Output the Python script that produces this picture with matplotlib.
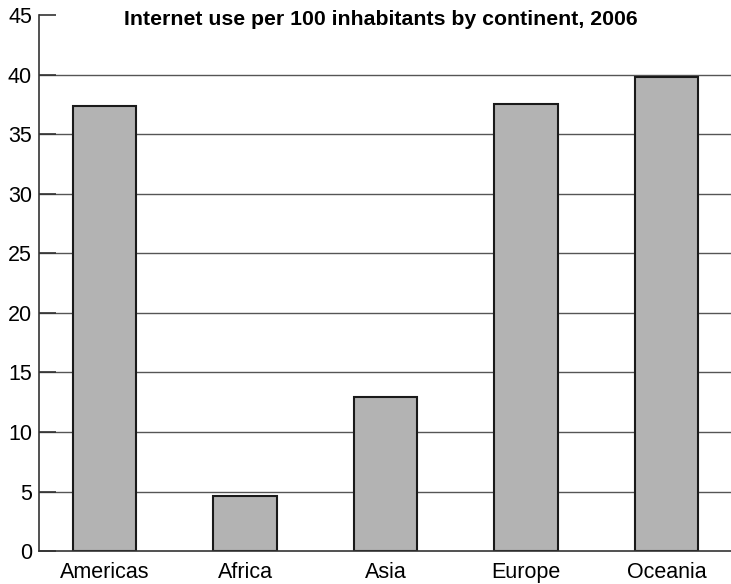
import matplotlib
matplotlib.use('Agg')
from matplotlib import pyplot as plt

continents = ['Americas', 'Africa', 'Asia', 'Europe', 'Oceania']
users_per_100 = [37.4, 4.6, 12.9, 37.6, 39.8]
y_ticks = [0, 5, 10, 15, 20, 25, 30, 35, 40, 45]

plt.rcParams['font.family'] = ['Liberation Sans', 'DejaVu Sans']

fig = plt.figure(figsize=(7.31, 5.84), dpi=100)
ax = fig.add_axes([0.0534, 0.0565, 0.9466, 0.917])

# gridlines only up to 40, drawn behind the bars
for y in y_ticks[1:-1]:
    ax.axhline(y, color='#555555', linewidth=1.0, zorder=0)

x = list(range(len(continents)))
ax.bar(x, users_per_100, width=0.45, color='#b3b3b3', edgecolor='#1a1a1a',
       linewidth=1.5, zorder=2)

ax.set_xlim(-0.466, 4.46)
ax.set_ylim(0, 45)
ax.set_yticks(y_ticks)
ax.set_xticks(x)
ax.set_xticklabels(continents)

for side in ['top', 'right']:
    ax.spines[side].set_visible(False)
ax.spines['left'].set_color('#333333')
ax.spines['bottom'].set_color('#333333')
ax.spines['left'].set_linewidth(1.2)
ax.spines['bottom'].set_linewidth(1.2)

ax.tick_params(axis='y', direction='in', length=12, width=1.2, color='#333333',
               labelsize=15.5, pad=5)
ax.tick_params(axis='x', length=0, labelsize=15.5, pad=8)

ax.text(0.4945, 0.993, 'Internet use per 100 inhabitants by continent, 2006',
        transform=ax.transAxes, ha='center', va='center', fontsize=15.3,
        fontweight='bold')

fig.savefig('out.png', dpi=100)
